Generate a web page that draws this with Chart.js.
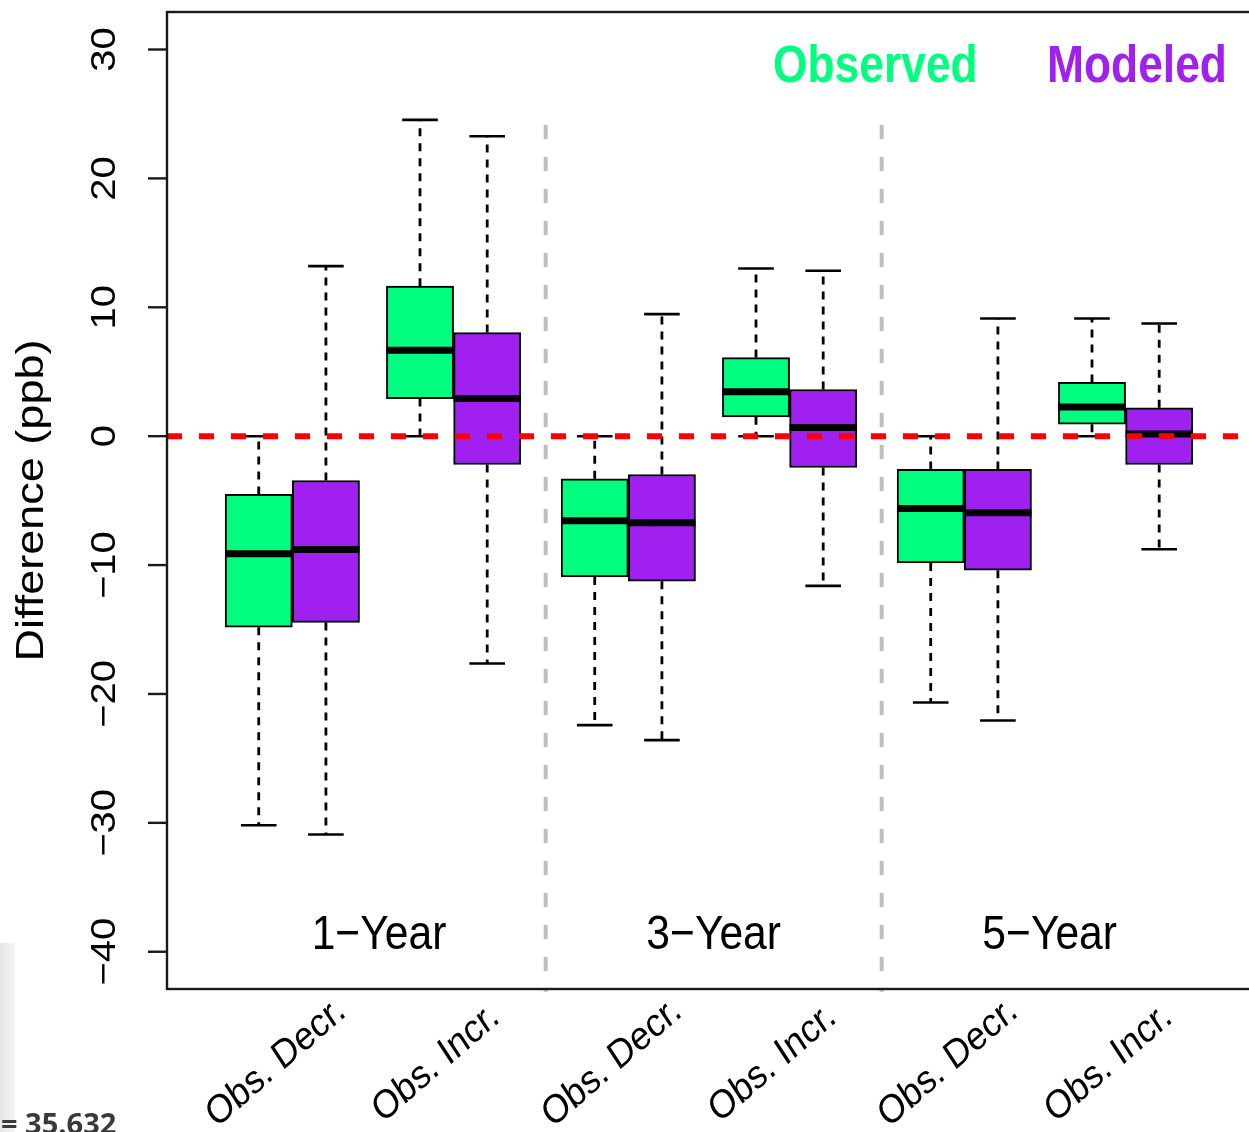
<!DOCTYPE html>
<html><head><meta charset="utf-8">
<script src="https://cdn.jsdelivr.net/npm/chart.js@4.4.1/dist/chart.umd.min.js"></script>
<style>html,body{margin:0;padding:0;background:#fff;overflow:hidden;width:1249px;height:1132px}canvas{display:block}</style>
</head><body>
<canvas id="c" width="1275" height="1132"></canvas>
<script>
// ---- data ----
const groups = ['1\u2212Year', '3\u2212Year', '5\u2212Year'];
const categories = ['Obs. Decr.', 'Obs. Incr.', 'Obs. Decr.', 'Obs. Incr.', 'Obs. Decr.', 'Obs. Incr.'];
const seriesNames = ['Observed', 'Modeled'];
const observedPos = [1, 3.4, 6, 8.4, 11, 13.4];
const modeledPos = [2, 4.4, 7, 9.4, 12, 14.4];
const observedMin = [-30.18, 0, -22.42, 0, -20.66, 0];
const observedQ1 = [-14.82, 2.92, -10.92, 1.5, -9.83, 0.93];
const observedMedian = [-9.13, 6.67, -6.57, 3.44, -5.61, 2.27];
const observedQ3 = [-4.52, 11.64, -3.31, 6.1, -2.58, 4.17];
const observedMax = [0, 24.54, 0, 13.01, 0, 9.13];
const modeledMin = [-30.9, -17.64, -23.58, -11.61, -22.06, -8.77];
const modeledQ1 = [-14.45, -2.2, -11.25, -2.43, -10.4, -2.2];
const modeledMedian = [-8.79, 2.92, -6.72, 0.67, -5.95, 0.16];
const modeledQ3 = [-3.44, 8.04, -2.97, 3.62, -2.58, 2.2];
const modeledMax = [13.19, 23.27, 9.47, 12.83, 9.13, 8.74];
const dividerPos = [5.27, 10.27];
const dividerRange = [24.14, -43.1];
const groupLabelPos = [2.79, 7.77, 12.77];
const groupLabelY = -39.8;
const categoryLabelPos = [2.32, 4.61, 7.32, 9.62, 12.32, 14.62];
const categoryLabelY = [-44.9, -45.35, -44.9, -45.35, -44.9, -45.35];
const yTicks = [-40, -30, -20, -10, 0, 10, 20, 30];
const yTickLabels = ['\u221240', '\u221230', '\u221220', '\u221210', '0', '10', '20', '30'];
const yTitle = 'Difference (ppb)';
const referenceLine = 0;
const xRange = [-0.365, 15.93];
const yRange = [-42.89, 32.91];
const footnote = '= 35.632';

// ---- styling ----
const OBS = '#00FF7F', MOD = '#A020F0';
const FONT = "'Liberation Sans', Arial, sans-serif";
const SX = 0.87; // horizontal squeeze of the reference picture
const CAP = 0.265, HALF = 0.5;

function boxData(pos, q1, q3) { return pos.map((p, i) => ({ x: p, y: [q1[i], q3[i]] })); }
function medianPts() {
  const pts = [];
  [[observedPos, observedMedian], [modeledPos, modeledMedian]].forEach(([pos, med]) => {
    pos.forEach((p, i) => { pts.push({ x: p - HALF, y: med[i] }, { x: p + HALF, y: med[i] }, { x: p, y: null }); });
  });
  return pts;
}
function whiskerPts() {
  const pts = [];
  [[observedPos, observedMin, observedQ1, observedQ3, observedMax], [modeledPos, modeledMin, modeledQ1, modeledQ3, modeledMax]]
    .forEach(([pos, lo, q1, q3, hi]) => {
      pos.forEach((p, i) => {
        pts.push({ x: p, y: q3[i] }, { x: p, y: hi[i] }, { x: p, y: null },
                 { x: p, y: q1[i] }, { x: p, y: lo[i] }, { x: p, y: null });
      });
    });
  return pts;
}
function capPts() {
  const pts = [];
  [[observedPos, observedMin, observedMax], [modeledPos, modeledMin, modeledMax]].forEach(([pos, lo, hi]) => {
    pos.forEach((p, i) => {
      pts.push({ x: p - CAP, y: hi[i] }, { x: p + CAP, y: hi[i] }, { x: p, y: null },
               { x: p - CAP, y: lo[i] }, { x: p + CAP, y: lo[i] }, { x: p, y: null });
    });
  });
  return pts;
}
function dividerPts() {
  const pts = [];
  dividerPos.forEach(d => { pts.push({ x: d, y: dividerRange[0] }, { x: d, y: dividerRange[1] }, { x: d, y: null }); });
  return pts;
}

const lineBase = { type: 'line', pointRadius: 0, pointHoverRadius: 0, tension: 0, fill: false, borderCapStyle: 'butt', spanGaps: false };

const annotPlugin = {
  id: 'annot',
  beforeDraw(chart) {
    const ctx = chart.ctx;
    ctx.save();
    ctx.fillStyle = '#ffffff';
    ctx.fillRect(0, 0, chart.width, chart.height);
    const g = ctx.createLinearGradient(0, 0, 16, 0);
    g.addColorStop(0, '#e6e6e6'); g.addColorStop(1, '#f7f7f7');
    ctx.fillStyle = g;
    ctx.fillRect(0, 943, 15, 200);
    ctx.restore();
  },
  afterDraw(chart) {
    const ctx = chart.ctx, ca = chart.chartArea;
    const xs = chart.scales.x, ys = chart.scales.y;
    ctx.save();
    // frame
    ctx.strokeStyle = '#1a1a1a'; ctx.lineWidth = 2.4;
    ctx.strokeRect(ca.left, ca.top, ca.right - ca.left, ca.bottom - ca.top);
    // y ticks
    ctx.fillStyle = '#000';
    ctx.font = '40px ' + FONT; ctx.textAlign = 'center'; ctx.textBaseline = 'alphabetic';
    yTicks.forEach((v, i) => {
      const py = ys.getPixelForValue(v);
      ctx.beginPath(); ctx.moveTo(ca.left - 19, py); ctx.lineTo(ca.left, py); ctx.stroke();
      ctx.save(); ctx.translate(115, py); ctx.scale(SX, 1); ctx.rotate(-Math.PI / 2);
      ctx.fillText(yTickLabels[i], 0, 0); ctx.restore();
    });
    // y title
    ctx.font = '45px ' + FONT;
    ctx.save(); ctx.translate(43, (ca.top + ca.bottom) / 2); ctx.scale(SX, 1); ctx.rotate(-Math.PI / 2);
    ctx.fillText(yTitle, 0, 0); ctx.restore();
    // group labels
    ctx.font = '49px ' + FONT;
    groups.forEach((t, i) => {
      ctx.save(); ctx.translate(xs.getPixelForValue(groupLabelPos[i]), ys.getPixelForValue(groupLabelY));
      ctx.scale(SX, 1); ctx.fillText(t, 0, 0); ctx.restore();
    });
    // category labels
    ctx.font = '40px ' + FONT; ctx.textAlign = 'right';
    categories.forEach((t, i) => {
      ctx.save(); ctx.translate(xs.getPixelForValue(categoryLabelPos[i]), ys.getPixelForValue(categoryLabelY[i]));
      ctx.scale(SX, 1); ctx.rotate(-37 * Math.PI / 180); ctx.fillText(t, 0, 0); ctx.restore();
    });
    // legend
    ctx.font = 'bold 51px ' + FONT; ctx.textAlign = 'left';
    [[seriesNames[0], OBS, 773], [seriesNames[1], MOD, 1047]].forEach(([t, c, px]) => {
      ctx.save(); ctx.fillStyle = c; ctx.translate(px, 82); ctx.scale(SX, 1); ctx.fillText(t, 0, 0); ctx.restore();
    });
    // footnote fragment
    ctx.font = "bold 29px 'Open Sans', sans-serif"; ctx.fillStyle = '#3a3a3a';
    ctx.fillText(footnote, 1, 1134);
    ctx.restore();
  }
};

new Chart(document.getElementById('c'), {
  type: 'bar',
  data: {
    datasets: [
      Object.assign({}, lineBase, { label: 'zero', data: [{ x: xRange[0], y: referenceLine }, { x: xRange[1], y: referenceLine }],
        borderColor: '#FF0000', borderWidth: 6, borderDash: [15, 17], order: 0, clip: false }),
      Object.assign({}, lineBase, { label: 'medians', data: medianPts(), borderColor: '#000', borderWidth: 7, order: 1 }),
      { type: 'bar', label: seriesNames[0], data: boxData(observedPos, observedQ1, observedQ3), backgroundColor: OBS,
        borderColor: '#000', borderWidth: 2, borderSkipped: false, grouped: false, barPercentage: 1, categoryPercentage: 1, order: 2 },
      { type: 'bar', label: seriesNames[1], data: boxData(modeledPos, modeledQ1, modeledQ3), backgroundColor: MOD,
        borderColor: '#000', borderWidth: 2, borderSkipped: false, grouped: false, barPercentage: 1, categoryPercentage: 1, order: 2 },
      Object.assign({}, lineBase, { label: 'caps', data: capPts(), borderColor: '#000', borderWidth: 2.6, order: 3 }),
      Object.assign({}, lineBase, { label: 'whiskers', data: whiskerPts(), borderColor: '#000', borderWidth: 2.8, borderDash: [8, 7], order: 3 }),
      Object.assign({}, lineBase, { label: 'dividers', data: dividerPts(), borderColor: '#BEBEBE', borderWidth: 4, borderDash: [14, 18], order: 4, clip: false })
    ]
  },
  options: {
    responsive: false,
    devicePixelRatio: 1,
    animation: false,
    events: [],
    layout: { autoPadding: false, padding: { left: 167, top: 12, right: 13, bottom: 143 } },
    plugins: { legend: { display: false }, tooltip: { enabled: false } },
    scales: {
      x: { type: 'linear', display: false, offset: false, min: xRange[0], max: xRange[1],
           afterBuildTicks: (axis) => { axis.ticks = [{ value: axis.max }]; } },
      y: { type: 'linear', display: false, min: yRange[0], max: yRange[1] }
    }
  },
  plugins: [annotPlugin]
});
</script>
</body></html>
